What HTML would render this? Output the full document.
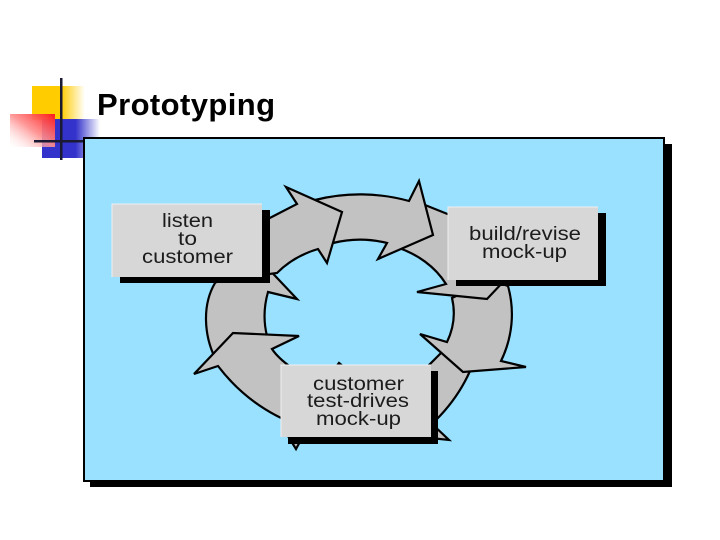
<!DOCTYPE html>
<html>
<head>
<meta charset="utf-8">
<style>
html,body{margin:0;padding:0;background:#fff;width:720px;height:540px;overflow:hidden}
svg{display:block}
text{font-family:"Liberation Sans",Arial,sans-serif}
.l{font-size:19px;fill:#1c1c1c}
.a{fill:#c2c2c2;stroke:#000;stroke-width:2.2;stroke-linejoin:miter}
</style>
</head>
<body>
<svg width="720" height="540" viewBox="0 0 720 540" xmlns="http://www.w3.org/2000/svg">
<defs>
<linearGradient id="y" x1="0" x2="1" y1="0" y2="0"><stop offset="0" stop-color="#ffcc00"/><stop offset=".55" stop-color="#ffcc00"/><stop offset="1" stop-color="#ffcc00" stop-opacity="0"/></linearGradient>
<linearGradient id="b" x1="0" x2="1" y1="0" y2="0"><stop offset="0" stop-color="#3333cc"/><stop offset=".58" stop-color="#3333cc"/><stop offset="1" stop-color="#3333cc" stop-opacity="0"/></linearGradient>
<linearGradient id="r" x1="1" x2="0" y1="0" y2="1"><stop offset="0" stop-color="#ff1a1a"/><stop offset=".5" stop-color="#ff8f8f" stop-opacity=".9"/><stop offset="1" stop-color="#ffffff" stop-opacity=".2"/></linearGradient>
</defs>

<rect x="32" y="86" width="53" height="34" fill="url(#y)"/>
<rect x="42" y="119" width="58" height="39" fill="url(#b)"/>
<rect x="10" y="114" width="45" height="33" fill="url(#r)"/>
<rect x="60" y="78" width="2.5" height="82" fill="#1a1a33"/>
<rect x="34" y="140" width="50" height="2.5" fill="#1a1a33"/>

<text x="97" y="115" font-size="31" font-weight="bold" fill="#000" textLength="178" lengthAdjust="spacing">Prototyping</text>

<rect x="90" y="144" width="582" height="343" fill="#000"/>
<rect x="84" y="138" width="580" height="343" fill="#99e1ff" stroke="#000" stroke-width="2"/>

<!-- G: left arrow -->
<path class="a" d="M222 345 L267 336 C263 320 264 306 268 292 L297 299 L262 262 L240 262 L215 283 C202 305 204 335 215 358 Z"/>
<!-- F: bottom-left arrow -->
<path class="a" d="M300 426 Q250 408 218 366 L194 374 L233 333 L299 336 L272 349 Q278 358 292 368 L310 400 Z"/>
<!-- hidden head tips under the bottom box -->
<path class="a" d="M288 436 L296 449 L303 436 Z"/>
<path class="a" d="M336 367 L339 363 L344 367 Z"/>
<path class="a" d="M430 422 L449 440 L430 438 Z"/>
<!-- E: lower-right body -->
<path class="a" d="M470 371 Q458 398 436 420 L410 430 L410 380 L429 365 L442 352 Z"/>
<!-- D: right arrow -->
<path class="a" d="M490 280 L452 298 A94 78 0 0 1 447 342 L420 334 L463 372 L526 367 L501 361 A153 126 0 0 0 508 286 Z"/>
<!-- C: upper-right arrow -->
<path class="a" d="M420 203 L450 215 L505 280 L487 299 L417 292 L446 284 A94 78 0 0 0 396 247 Z"/>
<!-- B: top arrow -->
<path class="a" d="M315 200 A153 126 0 0 1 409 201 L419 181 L433 235 L378 259 L387 243 A94 78 0 0 0 333 243 Z"/>
<!-- A: upper-left arrow -->
<path class="a" d="M262 222 L297 204 L286 187 L342 212 L327 263 L318 249 A94 78 0 0 0 277 273 L262 275 Z"/>

<!-- listen box -->
<rect x="120" y="210" width="150" height="73" fill="#000"/>
<rect x="112" y="204" width="150" height="73" fill="#d7d7d7"/>
<path d="M112 277V204H262" fill="none" stroke="#efefef" stroke-width="1"/>
<text class="l" x="162" y="227" textLength="51" lengthAdjust="spacingAndGlyphs">listen</text>
<text class="l" x="178" y="245" textLength="19" lengthAdjust="spacingAndGlyphs">to</text>
<text class="l" x="142" y="263" textLength="91" lengthAdjust="spacingAndGlyphs">customer</text>

<!-- build box -->
<rect x="456" y="213" width="150" height="73" fill="#000"/>
<rect x="448" y="207" width="150" height="73" fill="#d7d7d7"/>
<path d="M448 280V207H598" fill="none" stroke="#efefef" stroke-width="1"/>
<text class="l" x="469" y="240" textLength="112" lengthAdjust="spacingAndGlyphs">build/revise</text>
<text class="l" x="482" y="258" textLength="85" lengthAdjust="spacingAndGlyphs">mock-up</text>

<!-- customer box -->
<rect x="288" y="371" width="150" height="73" fill="#000"/>
<rect x="281" y="365" width="150" height="72" fill="#d7d7d7"/>
<path d="M281 437V365H431" fill="none" stroke="#efefef" stroke-width="1"/>
<text class="l" x="313" y="390" textLength="91" lengthAdjust="spacingAndGlyphs">customer</text>
<text class="l" x="307" y="407" textLength="102" lengthAdjust="spacingAndGlyphs">test-drives</text>
<text class="l" x="316" y="425" textLength="85" lengthAdjust="spacingAndGlyphs">mock-up</text>
</svg>
</body>
</html>
